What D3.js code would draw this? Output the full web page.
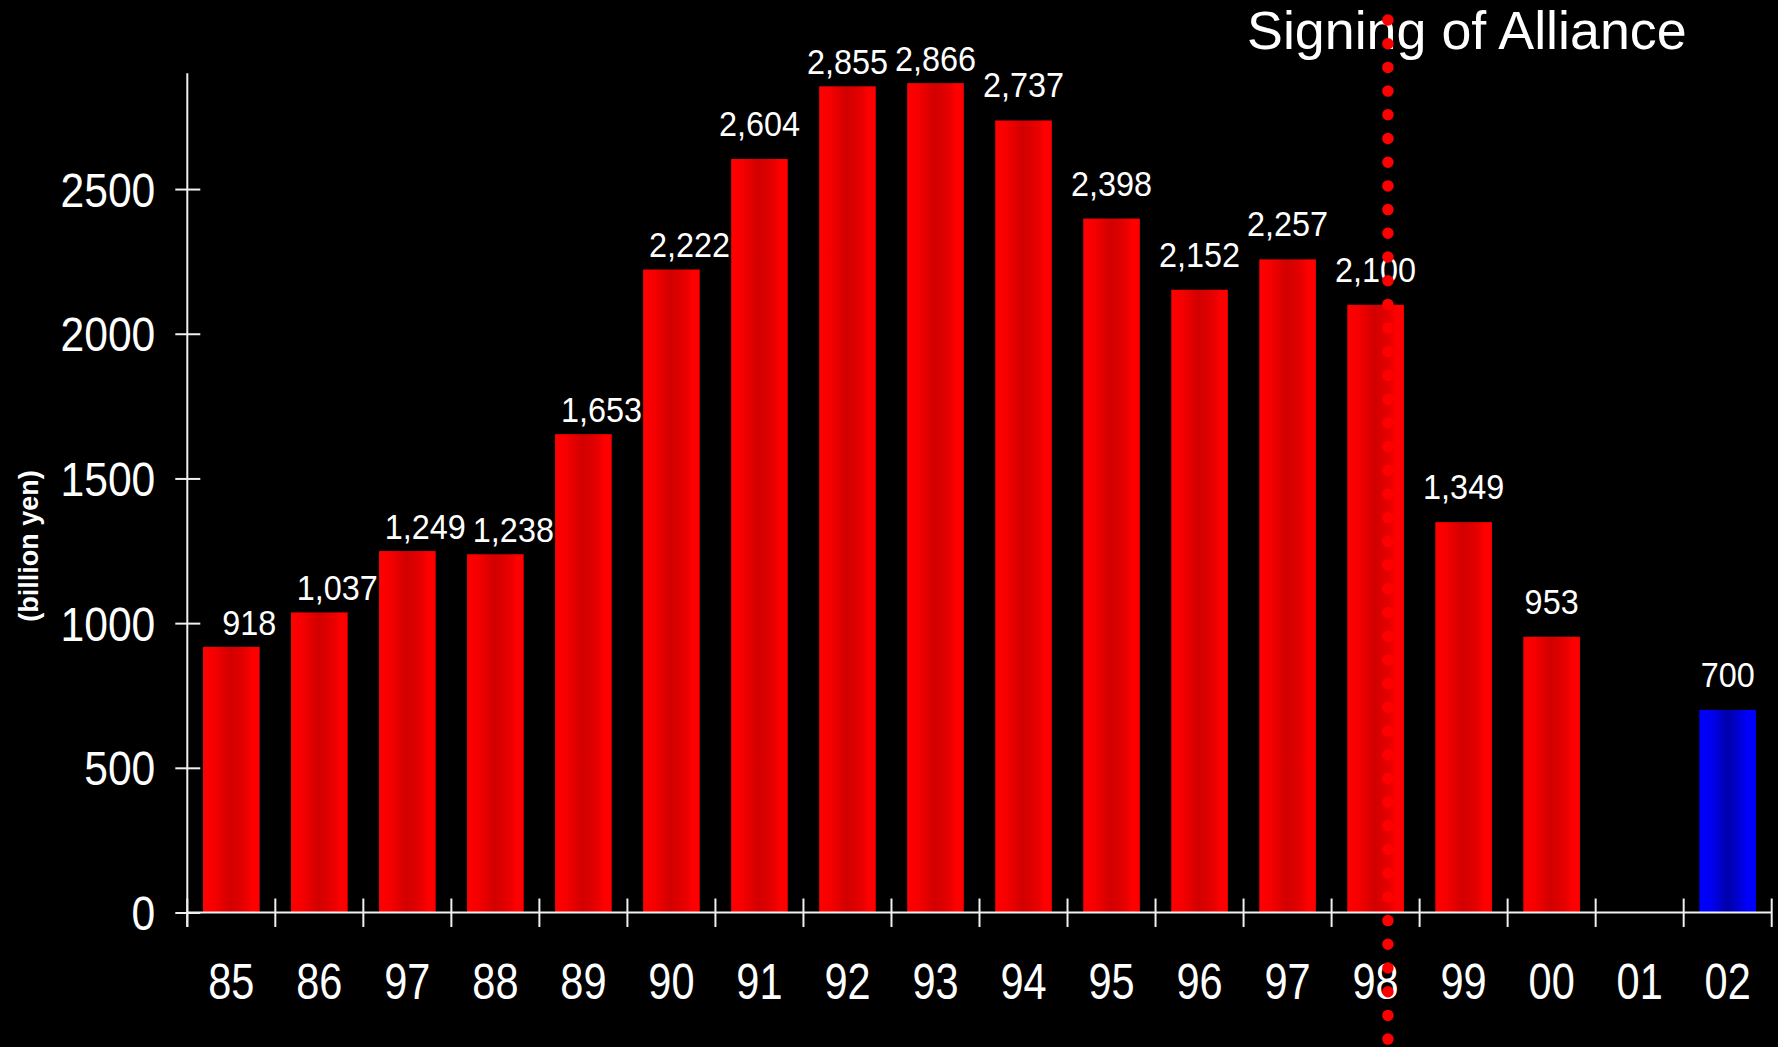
<!DOCTYPE html>
<html>
<head>
<meta charset="utf-8">
<script src="https://cdn.jsdelivr.net/npm/d3@7"></script>
<style>
  html, body { margin: 0; padding: 0; background: #000; }
  svg { display: block; }
  text { font-family: "Liberation Sans", Arial, sans-serif; fill: #fff; }
</style>
</head>
<body>
<svg id="chart" width="1778" height="1047"></svg>
<script>
// ---- data ----
const yearLabels = ["85","86","97","88","89","90","91","92","93","94","95","96","97","98","99","00","01","02"];
const values     = [918, 1037, 1249, 1238, 1653, 2222, 2604, 2855, 2866, 2737, 2398, 2152, 2257, 2100, 1349, 953, null, 700];
const barKind    = ["actual","actual","actual","actual","actual","actual","actual","actual","actual","actual","actual","actual","actual","actual","actual","actual","none","target"];
const yTicks     = [0, 500, 1000, 1500, 2000, 2500];
const yMax       = 2900;
const yTitle     = "(billion yen)";
const eventTitle = "Signing of Alliance";
const eventIndex = 13; // "98"

// ---- layout ----
const W = 1778, H = 1047;
const plotLeft = 187.3, plotRight = 1771.7, plotTop = 73.3, plotBottom = 912.5;

const svg = d3.select("#chart");
svg.append("rect").attr("width", W).attr("height", H).attr("fill", "#000");

const defs = svg.append("defs");
function grad(id, stops) {
  const g = defs.append("linearGradient").attr("id", id)
    .attr("x1", "0%").attr("x2", "100%").attr("y1", "0%").attr("y2", "0%");
  stops.forEach(([o, c]) => g.append("stop").attr("offset", o).attr("stop-color", c));
}
grad("gRed",  [["0%","#ff0000"],["18%","#f80000"],["48%","#d20000"],["72%","#e40000"],["88%","#ff0000"],["100%","#ff0000"]]);
grad("gBlue", [["0%","#0000ff"],["22%","#0000f0"],["50%","#0000a8"],["72%","#0000d8"],["85%","#0000ff"],["100%","#0000ff"]]);

const idx = d3.range(yearLabels.length);
const x = d3.scaleBand().domain(idx).range([plotLeft, plotRight])
  .paddingInner(0.357).paddingOuter(0.1785);
const y = d3.scaleLinear().domain([0, yMax]).range([plotBottom, plotTop]);

// ---- bars ----
const bars = idx.filter(i => values[i] != null);
svg.append("g").selectAll("rect").data(bars).join("rect")
  .attr("x", i => x(i))
  .attr("width", x.bandwidth())
  .attr("y", i => y(values[i]))
  .attr("height", i => y(0) - y(values[i]))
  .attr("fill", i => barKind[i] === "target" ? "url(#gBlue)" : "url(#gRed)");

// ---- value labels ----
const fmt = d3.format(",");
const shiftedLabels = 6;      // first labels sit right of the bar centre in the original
const closeLabels = new Set([0, 1, 2, 3, 4, 5, 7, 8]); // labels that hug the bar top
const lblScale = 0.9;
svg.append("g").selectAll("text").data(bars).join("text")
  .attr("transform", i => {
    const cx = x(i) + x.bandwidth() / 2 + (i < shiftedLabels ? 18 : 0);
    const by = y(values[i]) - (closeLabels.has(i) ? 12 : 23);
    return `translate(${cx},${by}) scale(${lblScale},1)`;
  })
  .attr("text-anchor", "middle")
  .attr("font-size", 36)
  .text(i => fmt(values[i]));

// ---- axes ----
const axisColor = "#f0f0f0";
const yAxis = svg.append("g").attr("transform", `translate(${plotLeft},0)`)
  .call(d3.axisLeft(y).tickValues(yTicks).tickFormat(d3.format("d")).tickSize(12).tickPadding(0));
yAxis.select(".domain").remove();
yAxis.selectAll(".tick line").attr("x1", 13).attr("x2", -12)
  .attr("stroke", axisColor).attr("stroke-width", 2);
yAxis.selectAll(".tick text")
  .attr("x", null).attr("dy", null)
  .attr("font-size", 49).attr("fill", "#fff")
  .attr("font-family", '"Liberation Sans", Arial, sans-serif')
  .attr("text-anchor", "end").attr("dominant-baseline", "central")
  .attr("transform", `translate(-32,0) scale(0.87,1)`);
svg.append("line")
  .attr("x1", plotLeft).attr("x2", plotLeft)
  .attr("y1", plotTop).attr("y2", plotBottom + 14.5)
  .attr("stroke", axisColor).attr("stroke-width", 2);

// x axis baseline + boundary ticks
svg.append("line")
  .attr("x1", plotLeft).attr("x2", plotRight)
  .attr("y1", y(0)).attr("y2", y(0))
  .attr("stroke", axisColor).attr("stroke-width", 2);
const bounds = d3.range(yearLabels.length + 1).map(k => x.range()[0] + k * x.step());
svg.append("g").selectAll("line").data(bounds).join("line")
  .attr("x1", d => d).attr("x2", d => d)
  .attr("y1", y(0) - 14).attr("y2", y(0) + 14.5)
  .attr("stroke", axisColor).attr("stroke-width", 2);

const xAxis = svg.append("g").attr("transform", `translate(0,${plotBottom})`)
  .call(d3.axisBottom(x).tickSize(0).tickFormat(i => yearLabels[i]));
xAxis.select(".domain").remove();
xAxis.selectAll(".tick text")
  .attr("y", null).attr("dy", null)
  .attr("font-size", 50).attr("fill", "#fff")
  .attr("font-family", '"Liberation Sans", Arial, sans-serif')
  .attr("transform", "translate(0,86) scale(0.83,1)");

// y title
svg.append("text")
  .attr("transform", `translate(29,546) rotate(-90)`)
  .attr("text-anchor", "middle").attr("dominant-baseline", "central")
  .attr("font-size", 27).attr("font-weight", "bold")
  .text(yTitle);

// event title
svg.append("text")
  .attr("x", 1247).attr("y", 49)
  .attr("font-size", 53.8)
  .text(eventTitle);

// dotted event line
const ex = x(eventIndex) - x.step() * x.paddingInner() / 2 + x.step() * 0.64;
svg.append("line")
  .attr("x1", ex).attr("x2", ex)
  .attr("y1", 20).attr("y2", H + 10)
  .attr("stroke", "#ff0000").attr("stroke-width", 11.5)
  .attr("stroke-linecap", "round").attr("stroke-dasharray", "0 23.7");
</script>
</body>
</html>
